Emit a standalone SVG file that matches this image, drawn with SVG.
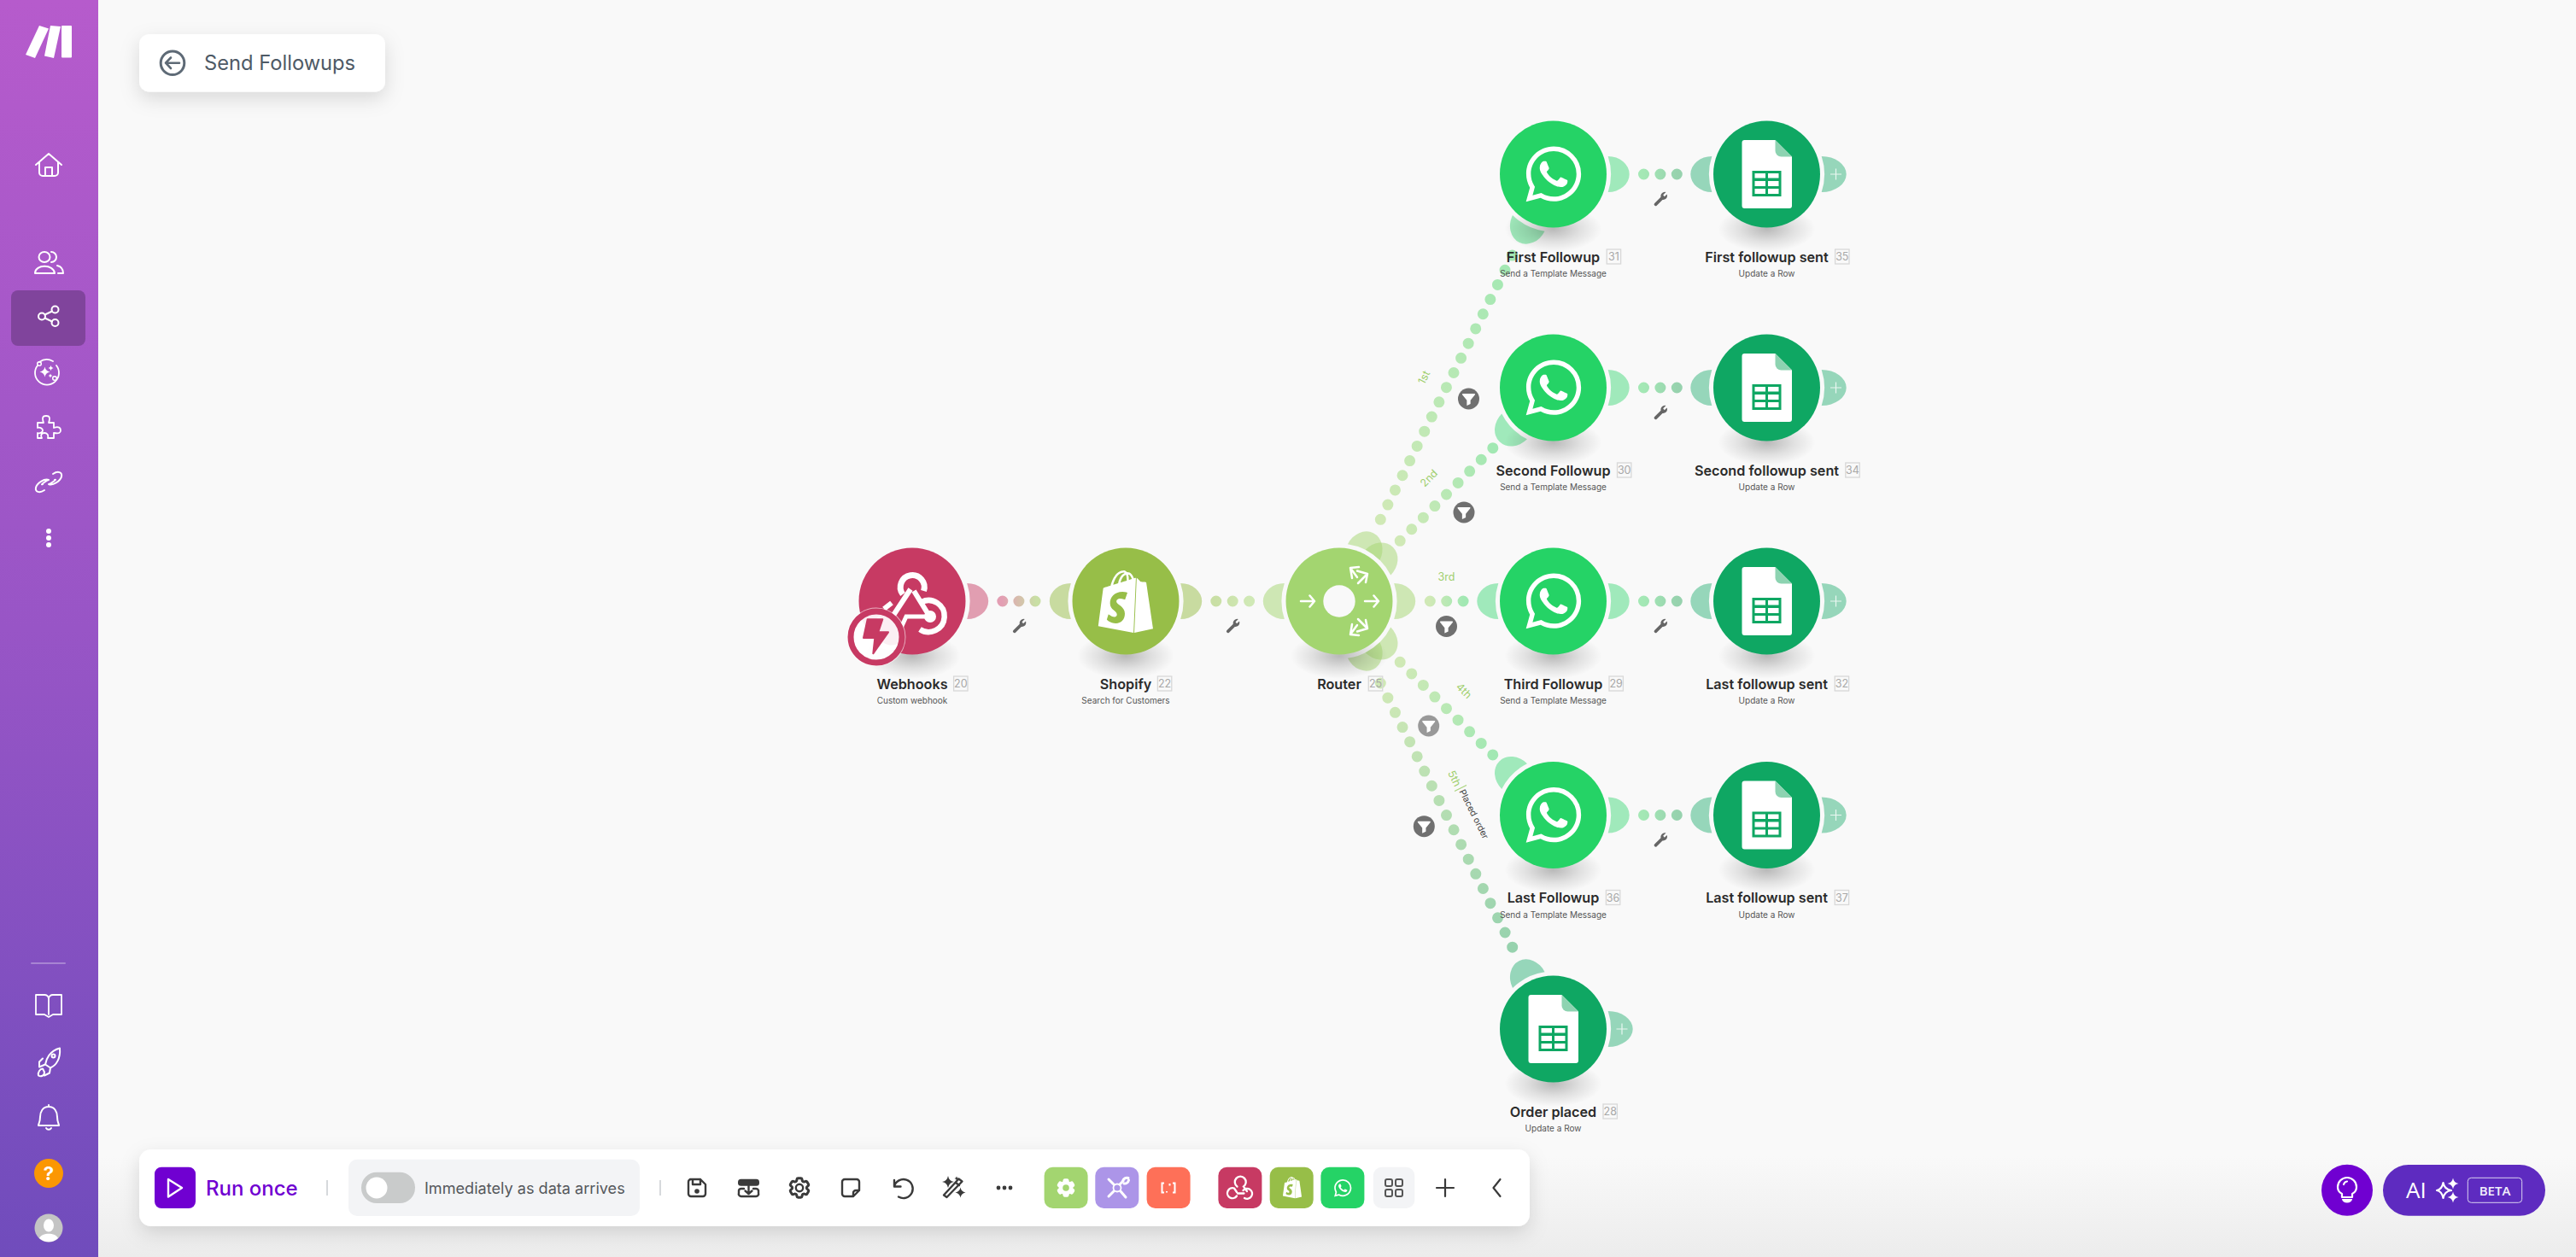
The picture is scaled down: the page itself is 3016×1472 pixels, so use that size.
<svg xmlns="http://www.w3.org/2000/svg" width="3016" height="1472" viewBox="0 0 3016 1472">
<style>
text{font-family:"Inter","Liberation Sans",sans-serif}
.n{font-size:16.2px;font-weight:600;fill:#2b2b2b;text-anchor:middle}
.s{font-size:10px;fill:#555;text-anchor:middle}
.b{fill:none;stroke:#d8d8d8;stroke-width:1.3}
.bn{font-size:12.5px;fill:#a8a8a8;text-anchor:middle}
.dots{fill:none;stroke-width:13;stroke-linecap:round}
.lb{font-size:12.5px;fill:#a0cf6e;text-anchor:middle}
.si{fill:none;stroke:#fff;stroke-width:2;stroke-linecap:round;stroke-linejoin:round}
.ti{fill:none;stroke:#3a3a3a;stroke-width:2.4;stroke-linecap:round;stroke-linejoin:round}
.ri{fill:none;stroke:#fff;stroke-width:2.5;stroke-linecap:round;stroke-linejoin:round}
</style>
<defs>
<linearGradient id="side" x1="0" y1="0" x2="0" y2="1"><stop offset="0" stop-color="#b65bcc"/><stop offset=".5" stop-color="#9855c6"/><stop offset="1" stop-color="#704cbc"/></linearGradient>
<linearGradient id="bg" x1="0" y1="0" x2="0" y2="1"><stop offset="0" stop-color="#f9f9f9"/><stop offset=".92" stop-color="#f9f9f9"/><stop offset="1" stop-color="#ececec"/></linearGradient>
<radialGradient id="sh"><stop offset="0" stop-color="#000" stop-opacity=".26"/><stop offset=".55" stop-color="#000" stop-opacity=".1"/><stop offset="1" stop-color="#000" stop-opacity="0"/></radialGradient>
<filter id="card" x="-20%" y="-50%" width="140%" height="220%"><feDropShadow dx="0" dy="8" stdDeviation="11" flood-color="#000" flood-opacity=".13"/></filter>
<linearGradient id="g0" gradientUnits="userSpaceOnUse" x1="1173" y1="0" x2="1213" y2="0"><stop offset="0" stop-color="#e39eb3"/><stop offset="1" stop-color="#c9dfa5"/></linearGradient>
<linearGradient id="g1" gradientUnits="userSpaceOnUse" x1="1423" y1="0" x2="1463" y2="0"><stop offset="0" stop-color="#c9dfa5"/><stop offset="1" stop-color="#d0e9b6"/></linearGradient>
<linearGradient id="g2" gradientUnits="userSpaceOnUse" x1="1674" y1="0" x2="1714" y2="0"><stop offset="0" stop-color="#d0e9b6"/><stop offset="1" stop-color="#a2e8b3"/></linearGradient>
<linearGradient id="g3" gradientUnits="userSpaceOnUse" x1="1924" y1="0" x2="1964" y2="0"><stop offset="0" stop-color="#a4e8b5"/><stop offset="1" stop-color="#97d2ae"/></linearGradient>
<linearGradient id="d1" gradientUnits="userSpaceOnUse" x1="1616" y1="608" x2="1771" y2="299"><stop offset="0" stop-color="#d0e9b6"/><stop offset="1" stop-color="#a2e8b3"/></linearGradient>
<linearGradient id="d2" gradientUnits="userSpaceOnUse" x1="1639" y1="633" x2="1748" y2="525"><stop offset="0" stop-color="#d0e9b6"/><stop offset="1" stop-color="#a2e8b3"/></linearGradient>
<linearGradient id="d4" gradientUnits="userSpaceOnUse" x1="1639" y1="775" x2="1748" y2="884"><stop offset="0" stop-color="#d0e9b6"/><stop offset="1" stop-color="#a2e8b3"/></linearGradient>
<linearGradient id="d5" gradientUnits="userSpaceOnUse" x1="1616" y1="800" x2="1771" y2="1109"><stop offset="0" stop-color="#d0e9b6"/><stop offset="1" stop-color="#97d2ae"/></linearGradient>
<path id="h" d="M64.2-21A25 21 0 0 1 64.2 21A67.5 67.5 0 0 0 64.2-21Z"/>
<path id="hp" d="M64.2-21A29 21 0 0 1 64.2 21A67.5 67.5 0 0 0 64.2-21Z"/>
<ellipse id="ns" cx="0" cy="64" rx="57" ry="27" fill="url(#sh)"/>
<path id="wa" fill="#fff" d="M17.472 14.382c-.297-.149-1.758-.867-2.03-.967-.273-.099-.471-.148-.67.15-.197.297-.767.966-.94 1.164-.173.199-.347.223-.644.075-.297-.15-1.255-.463-2.39-1.475-.883-.788-1.48-1.761-1.653-2.059-.173-.297-.018-.458.13-.606.134-.133.298-.347.446-.52.149-.174.198-.298.298-.497.099-.198.05-.371-.025-.52-.075-.149-.669-1.612-.916-2.207-.242-.579-.487-.5-.669-.51-.173-.008-.371-.01-.57-.01-.198 0-.52.074-.792.372-.272.297-1.04 1.016-1.04 2.479 0 1.462 1.065 2.875 1.213 3.074.149.198 2.096 3.2 5.077 4.487.709.306 1.262.489 1.694.625.712.227 1.36.195 1.871.118.571-.085 1.758-.719 2.006-1.413.248-.694.248-1.289.173-1.413-.074-.124-.272-.198-.57-.347m-5.421 7.403h-.004a9.87 9.87 0 01-5.031-1.378l-.361-.214-3.741.982.998-3.648-.235-.374a9.86 9.86 0 01-1.51-5.26c.001-5.45 4.436-9.884 9.888-9.884 2.64 0 5.122 1.03 6.988 2.898a9.825 9.825 0 012.893 6.994c-.003 5.45-4.437 9.884-9.885 9.884m8.413-18.297A11.815 11.815 0 0012.05 0C5.495 0 .16 5.335.157 11.892c0 2.096.547 4.142 1.588 5.945L.057 24l6.305-1.654a11.882 11.882 0 005.683 1.448h.005c6.554 0 11.89-5.335 11.893-11.893a11.821 11.821 0 00-3.48-8.413z"/>
<path id="shop" fill="#fff" d="M15.337 23.979l7.216-1.561s-2.604-17.613-2.625-17.73c-.018-.116-.114-.192-.211-.192s-1.929-.136-1.929-.136-1.275-1.274-1.439-1.411c-.045-.037-.075-.057-.121-.074l-.914 21.104h.023zM11.71 11.305s-.81-.424-1.774-.424c-1.447 0-1.504.906-1.504 1.141 0 1.232 3.24 1.715 3.24 4.629 0 2.295-1.44 3.76-3.406 3.76-2.354 0-3.54-1.465-3.54-1.465l.646-2.086s1.245 1.066 2.28 1.066c.675 0 .975-.545.975-.932 0-1.619-2.654-1.694-2.654-4.359-.034-2.237 1.571-4.416 4.827-4.416 1.257 0 1.875.361 1.875.361l-.945 2.715-.02.01zM11.17.83c.136 0 .271.038.405.135-.984.465-2.064 1.639-2.508 3.992-.656.213-1.293.405-1.889.578C7.697 3.75 8.951.84 11.17.84V.83zm1.235 2.949v.135c-.754.232-1.583.484-2.394.736.466-1.777 1.333-2.645 2.085-2.971.193.501.309 1.176.309 2.1zm.539-2.234c.694.074 1.141.867 1.429 1.755-.349.114-.735.231-1.158.366v-.252c0-.752-.096-1.371-.271-1.871v.002zm2.992 1.289c-.02 0-.06.021-.078.021s-.289.075-.714.21c-.423-1.233-1.176-2.37-2.508-2.37h-.115C12.135.209 11.669 0 11.265 0 8.159 0 6.675 3.877 6.21 5.846c-1.194.365-2.063.636-2.16.674-.675.213-.694.232-.772.87-.075.462-1.83 14.063-1.83 14.063L15.009 24l.927-21.166z"/>
<g id="hook" fill="none" stroke="#fff" stroke-linecap="butt">
<path stroke-width="7" d="M-11-8A14 14 0 1 1 13.500-12"/>
<path stroke-width="6" d="M-2-14L-23 18M2-12L18 14"/>
<path stroke-width="5" d="M20 18H-7L-13 31"/>
<circle cx="21" cy="18" r="7" fill="#fff" stroke="none"/>
<path stroke-width="6.500" d="M11 1A18.500 18.500 0 1 1 9 33"/>
<path stroke-width="6" d="M-33 9L-24 2M-37 20A19 19 0 0 0-12 50"/>
</g>
<g id="sheet">
<path fill="#fff" d="M-26-40H10L29.500-20.500V37A3 3 0 0 1 26.500 40H-26A3 3 0 0 1-29 37V-37A3 3 0 0 1-26-40Z"/>
<path fill="#8dd3b1" d="M10-40L29.500-20.500H17A7 7 0 0 1 10-27.500Z"/>
<rect x="-17" y="-4" width="34" height="30" fill="#0fa763"/>
<path fill="#fff" d="M-14-1H-1.500V4.500H-14ZM1.500-1H14V4.500H1.500ZM-14 8H-1.500V14H-14ZM1.500 8H14V14H1.500ZM-14 17H-1.500V23H-14ZM1.500 17H14V23H1.500Z"/>
</g>
<path id="wr" fill="#666" d="M-6.500 5L.8-2.300A4.800 4.800 0 0 1 6.800-8L3.500-4.700L5-2.700L8-5.500A4.800 4.800 0 0 1 2.800.9L-4 7.700A1.800 1.800 0 0 1-6.500 5Z"/>
<path id="fu" fill="#fff" d="M-8-7H8A1 1 0 0 1 8.700-5.500L2.500 2V7L-2.500 9.500V2L-8.700-5.500A1 1 0 0 1-8-7Z"/>
<path id="sp" d="M0-1Q.15-.15 1 0Q.15.15 0 1Q-.15.15-1 0Q-.15-.15 0-1Z"/>
<path id="gear" d="M9.594 3.94c.09-.542.56-.94 1.11-.94h2.593c.55 0 1.02.398 1.11.94l.213 1.281c.063.374.313.686.645.87.074.04.147.083.22.127.324.196.72.257 1.075.124l1.217-.456a1.125 1.125 0 011.37.49l1.296 2.247a1.125 1.125 0 01-.26 1.431l-1.003.827c-.293.24-.438.613-.431.992a6.759 6.759 0 010 .255c-.007.378.138.75.43.99l1.005.828c.424.35.534.954.26 1.43l-1.298 2.247a1.125 1.125 0 01-1.369.491l-1.217-.456c-.355-.133-.75-.072-1.076.124a6.57 6.57 0 01-.22.128c-.331.183-.581.495-.644.869l-.213 1.28c-.09.543-.56.941-1.11.941h-2.594c-.55 0-1.02-.398-1.11-.94l-.213-1.281c-.062-.374-.312-.686-.644-.87a6.52 6.52 0 01-.22-.127c-.325-.196-.72-.257-1.076-.124l-1.217.456a1.125 1.125 0 01-1.369-.49l-1.297-2.247a1.125 1.125 0 01.26-1.431l1.004-.827c.292-.24.437-.613.43-.992a6.932 6.932 0 010-.255c.007-.378-.138-.75-.43-.99l-1.004-.828a1.125 1.125 0 01-.26-1.43l1.297-2.247a1.125 1.125 0 011.37-.491l1.216.456c.356.133.751.072 1.076-.124.072-.044.146-.087.22-.128.332-.183.582-.495.644-.869l.214-1.281z"/>
</defs>

<rect id="background" width="3016" height="1472" fill="url(#bg)"/>

<g id="connectors">
<!-- dotted links -->
<line class="dots" stroke="url(#g0)" stroke-dasharray="0 19.1" x1="1173.800" y1="704" x2="1212.500" y2="704"/>
<line class="dots" stroke="url(#g1)" stroke-dasharray="0 19.4" x1="1423.800" y1="704" x2="1463" y2="704"/>
<line class="dots" stroke="url(#g2)" stroke-dasharray="0 19.4" x1="1674.300" y1="704" x2="1713.500" y2="704"/>
<line class="dots" stroke="url(#g3)" stroke-dasharray="0 19.4" x1="1924.500" y1="204" x2="1963.700" y2="204"/>
<line class="dots" stroke="url(#g3)" stroke-dasharray="0 19.4" x1="1924.500" y1="454" x2="1963.700" y2="454"/>
<line class="dots" stroke="url(#g3)" stroke-dasharray="0 19.4" x1="1924.500" y1="704" x2="1963.700" y2="704"/>
<line class="dots" stroke="url(#g3)" stroke-dasharray="0 19.4" x1="1924.500" y1="954.500" x2="1963.700" y2="954.500"/>
<line class="dots" stroke="url(#d1)" stroke-dasharray="0 19.2" x1="1616.300" y1="608.300" x2="1771" y2="298.200"/>
<line class="dots" stroke="url(#d2)" stroke-dasharray="0 19.2" x1="1639.200" y1="633.300" x2="1748.300" y2="524.200"/>
<line class="dots" stroke="url(#d4)" stroke-dasharray="0 19.2" x1="1639.200" y1="775.300" x2="1748.300" y2="884.500"/>
<line class="dots" stroke="url(#d5)" stroke-dasharray="0 19.2" x1="1616.300" y1="800" x2="1771" y2="1109.800"/>
<!-- port handles -->
<g fill="#c73a63" fill-opacity=".48"><use href="#h" transform="translate(1068,704)"/></g>
<g fill="#97be48" fill-opacity=".5"><use href="#h" transform="translate(1318,704)"/><use href="#h" transform="translate(1318,704) rotate(180)"/></g>
<g fill="#a3d570" fill-opacity=".5">
<use href="#h" transform="translate(1568,704) rotate(180)"/>
<use href="#h" transform="translate(1568,704)"/>
<use href="#h" transform="translate(1568,704) rotate(-63.430)"/>
<use href="#h" transform="translate(1568,704) rotate(-45)"/>
<use href="#h" transform="translate(1568,704) rotate(45)"/>
<use href="#h" transform="translate(1568,704) rotate(63.430)"/>
</g>
<g fill="#25d366" fill-opacity=".42">
<use href="#h" transform="translate(1818.500,204)"/><use href="#h" transform="translate(1818.500,204) rotate(116.570)"/>
<use href="#h" transform="translate(1818.500,454)"/><use href="#h" transform="translate(1818.500,454) rotate(135)"/>
<use href="#h" transform="translate(1818.500,704)"/><use href="#h" transform="translate(1818.500,704) rotate(180)"/>
<use href="#h" transform="translate(1818.500,954.500)"/><use href="#h" transform="translate(1818.500,954.500) rotate(-135)"/>
</g>
<g fill="#0fa763" fill-opacity=".42">
<use href="#h" transform="translate(2068.500,204) rotate(180)"/><use href="#hp" transform="translate(2068.500,204)"/>
<use href="#h" transform="translate(2068.500,454) rotate(180)"/><use href="#hp" transform="translate(2068.500,454)"/>
<use href="#h" transform="translate(2068.500,704) rotate(180)"/><use href="#hp" transform="translate(2068.500,704)"/>
<use href="#h" transform="translate(2068.500,954.500) rotate(180)"/><use href="#hp" transform="translate(2068.500,954.500)"/>
<use href="#h" transform="translate(1818.500,1205) rotate(-116.570)"/><use href="#hp" transform="translate(1818.500,1205)"/>
</g>
<g stroke="#fff" stroke-opacity=".8" stroke-width="1.200" fill="none">
<path d="M2149.500 197.500v13M2143 204h13M2149.500 447.500v13M2143 454h13M2149.500 697.500v13M2143 704h13M2149.500 948v13M2143 954.500h13M1899 1198.500v13M1892.500 1205h13"/>
</g>
<!-- wrench marks -->
<use href="#wr" transform="translate(1193,733)"/>
<use href="#wr" transform="translate(1443,733)"/>
<use href="#wr" transform="translate(1943.700,233)"/>
<use href="#wr" transform="translate(1943.700,483)"/>
<use href="#wr" transform="translate(1943.700,733)"/>
<use href="#wr" transform="translate(1943.700,983.500)"/>
<!-- filters -->
<g transform="translate(1719.500,467)"><circle r="12.500" fill="#707070"/><use href="#fu" transform="scale(.85)"/></g>
<g transform="translate(1714,600)"><circle r="12.500" fill="#707070"/><use href="#fu" transform="scale(.85)"/></g>
<g transform="translate(1693.500,733.500)"><circle r="12.500" fill="#707070"/><use href="#fu" transform="scale(.85)"/></g>
<g transform="translate(1672.700,850)"><circle r="12.500" fill="#999"/><use href="#fu" transform="scale(.85)"/></g>
<g transform="translate(1667.300,967.700)"><circle r="12.500" fill="#707070"/><use href="#fu" transform="scale(.85)"/></g>
<!-- route labels -->
<text class="lb" transform="translate(1671,444) rotate(-63.430)">1st</text>
<text class="lb" transform="translate(1676,563) rotate(-45)">2nd</text>
<text class="lb" transform="translate(1693.500,679.500)">3rd</text>
<text class="lb" transform="translate(1711,812) rotate(45)">4th</text>
<text class="lb" transform="translate(1699,913.500) rotate(63.430)">5th</text>
<line x1="1703" y1="926.500" x2="1717" y2="919.500" stroke="#a9d37c" stroke-width="1.200"/>
<text class="lb" style="fill:#444;font-size:10.500px" transform="translate(1722.500,955) rotate(63.430)">Placed order</text>
</g>

<g id="webhooks" transform="translate(1068,704)">
<use href="#ns"/><circle r="62.500" fill="#c73a63"/><use href="#hook"/>
<g transform="translate(-42,42)"><circle r="34.500" fill="#fff" opacity=".6"/><circle r="30" fill="#fff" fill-opacity=".8" stroke="#c73a63" stroke-width="7"/><path fill="#c73a63" stroke="#c73a63" stroke-width="2" stroke-linejoin="round" d="M-10.300-20.700H7.300L2.300-5.700H14L-3.700 19.300L-1.700 1H-15Z"/></g>
<text class="n" y="102.500">Webhooks</text><rect class="b" x="48.600" y="88" width="16.400" height="17"/><text class="bn" x="56.800" y="101">20</text><text class="s" y="120">Custom webhook</text>
</g>
<g id="shopify" transform="translate(1318,704)">
<use href="#ns"/><circle r="62.500" fill="#97be48"/><use href="#shop" transform="translate(-36.500,-36) scale(3.040)"/>
<text class="n" y="102.500">Shopify</text><rect class="b" x="37.400" y="88" width="16.400" height="17"/><text class="bn" x="45.600" y="101">22</text><text class="s" y="120">Search for Customers</text>
</g>
<g id="router" transform="translate(1568,704)">
<use href="#ns"/><circle r="62.500" fill="#a3d570"/><circle r="18.700" fill="#f9f9f9"/>
<g class="ri"><path d="M-45 0H-29M-34.500-6.500L-29 0L-34.500 6.500M30 0H46M40.500-6.500L46 0L40.500 6.500"/>
<path d="M15-27L13-39L23-40M13-39L21-28M21-35.500L33-32L31-22M33-32L22-21"/>
<path d="M15 27L13 39L23 40M13 39L21 28M21 35.500L33 32L31 22M33 32L22 21"/></g>
<text class="n" y="102.500">Router</text><rect class="b" x="34.300" y="88" width="16.400" height="17"/><text class="bn" x="42.500" y="101">25</text>
</g>
<g id="n31" transform="translate(1818.500,204)"><use href="#ns"/><circle r="62.500" fill="#25d366"/><use href="#wa" transform="translate(-32,-32.500) scale(2.700)"/><text class="n" y="102.500">First Followup</text><rect class="b" x="62.700" y="88" width="16.400" height="17"/><text class="bn" x="70.900" y="101">31</text><text class="s" y="120">Send a Template Message</text></g>
<g id="n30" transform="translate(1818.500,454)"><use href="#ns"/><circle r="62.500" fill="#25d366"/><use href="#wa" transform="translate(-32,-32.500) scale(2.700)"/><text class="n" y="102.500">Second Followup</text><rect class="b" x="75" y="88" width="16.400" height="17"/><text class="bn" x="83.200" y="101">30</text><text class="s" y="120">Send a Template Message</text></g>
<g id="n29" transform="translate(1818.500,704)"><use href="#ns"/><circle r="62.500" fill="#25d366"/><use href="#wa" transform="translate(-32,-32.500) scale(2.700)"/><text class="n" y="102.500">Third Followup</text><rect class="b" x="65.500" y="88" width="16.400" height="17"/><text class="bn" x="73.700" y="101">29</text><text class="s" y="120">Send a Template Message</text></g>
<g id="n36" transform="translate(1818.500,954.500)"><use href="#ns"/><circle r="62.500" fill="#25d366"/><use href="#wa" transform="translate(-32,-32.500) scale(2.700)"/><text class="n" y="102.500">Last Followup</text><rect class="b" x="61.900" y="88" width="16.400" height="17"/><text class="bn" x="70.100" y="101">36</text><text class="s" y="120">Send a Template Message</text></g>
<g id="n35" transform="translate(2068.500,204)"><use href="#ns"/><circle r="62.500" fill="#0fa763"/><use href="#sheet"/><text class="n" y="102.500">First followup sent</text><rect class="b" x="80.100" y="88" width="16.400" height="17"/><text class="bn" x="88.300" y="101">35</text><text class="s" y="120">Update a Row</text></g>
<g id="n34" transform="translate(2068.500,454)"><use href="#ns"/><circle r="62.500" fill="#0fa763"/><use href="#sheet"/><text class="n" y="102.500">Second followup sent</text><rect class="b" x="92.300" y="88" width="16.400" height="17"/><text class="bn" x="100.500" y="101">34</text><text class="s" y="120">Update a Row</text></g>
<g id="n32" transform="translate(2068.500,704)"><use href="#ns"/><circle r="62.500" fill="#0fa763"/><use href="#sheet"/><text class="n" y="102.500">Last followup sent</text><rect class="b" x="79.700" y="88" width="16.400" height="17"/><text class="bn" x="87.900" y="101">32</text><text class="s" y="120">Update a Row</text></g>
<g id="n37" transform="translate(2068.500,954.500)"><use href="#ns"/><circle r="62.500" fill="#0fa763"/><use href="#sheet"/><text class="n" y="102.500">Last followup sent</text><rect class="b" x="79.700" y="88" width="16.400" height="17"/><text class="bn" x="87.900" y="101">37</text><text class="s" y="120">Update a Row</text></g>
<g id="n28" transform="translate(1818.500,1205)"><use href="#ns"/><circle r="62.500" fill="#0fa763"/><use href="#sheet"/><text class="n" y="102.500">Order placed</text><rect class="b" x="58.500" y="88" width="16.400" height="17"/><text class="bn" x="66.700" y="101">28</text><text class="s" y="120">Update a Row</text></g>

<g id="sidebar">
<rect width="115" height="1472" fill="url(#side)"/>
<g fill="#fff"><path d="M30 64L46 30L57 33.500L41 68Z"/><path d="M59 30L71 31L63 68L52 65.600Z"/><rect x="72" y="30" width="12" height="37.500" rx="1"/></g>
<rect x="13" y="340" width="87" height="65" rx="8" fill="#80449c"/>
<g class="si">
<path d="M42 193L57 180L72 193M46 190V202A4 4 0 0 0 50 206H64A4 4 0 0 0 68 202V190M53 206V196H61V206"/>
<ellipse cx="52" cy="301" rx="6.500" ry="6"/><path d="M60 295A6 6 0 1 1 60 307M41 320C41 309 63 309 64 320ZM67 311C71 312 74 315 74 320H68"/>
<circle cx="49" cy="370.500" r="4"/><circle cx="64.500" cy="362.500" r="4"/><circle cx="64.500" cy="378" r="4"/><path d="M52.500 368.500L61 364.500M52.500 372.500L61 376.500"/>
<path d="M44 428A14 14 0 1 0 66 428M46 424A15 15 0 0 1 62 423" stroke-width="1.800"/><circle cx="46" cy="426" r="2.300" stroke-width="1.500"/><circle cx="64" cy="443" r="2.300" stroke-width="1.500"/>
<path d="M44 495H51C49 489 50 487 54 487S59 489 57 495H63V501C69 499 71 501 71 504S69 508 63 507V513H56C57 509 55 507 52 507S47 509 49 513H44V507C47 508 50 506 50 504S47 500 44 501Z" stroke-width="1.800"/>
<path d="M62 555C68 551 73 553 72 558S62 569 57 567M52 574C46 578 41 576 42 571S52 560 57 562M50 567C46 569 55 562 57 562M64 562C68 560 59 567 57 567"/>
<path d="M42 1165V1188H52L57 1191L62 1188H72V1165H62Q58 1165 57 1169Q56 1165 52 1165ZM57 1169V1188" stroke-width="1.800"/>
<g transform="translate(0,-2.500)"><path d="M70 1230C58 1233 54 1243 53 1249L59 1253C66 1250 71 1242 70 1230ZM50 1242L46 1246V1252L53 1249M59 1253L58 1259L52 1262M45 1262C48 1264 52 1262 52 1258L50 1254C47 1254 44 1258 45 1262Z"/><circle cx="62.500" cy="1239" r="2"/></g>
<path d="M57 1294V1296M57 1296C50 1296 47 1302 47 1308C47 1314 45 1316 45 1318H69C69 1316 67 1314 67 1308C67 1302 64 1296 57 1296ZM54 1321A3.500 3.500 0 0 0 60 1321"/>
<line x1="37" y1="1128" x2="76" y2="1128" stroke-opacity=".3"/>
</g>
<g fill="#fff"><use href="#sp" transform="translate(52.500,435.500) scale(6)"/><use href="#sp" transform="translate(59.500,431) scale(3)"/><use href="#sp" transform="translate(59,440) scale(2.500)"/>
<circle cx="57" cy="622" r="3"/><circle cx="57" cy="630" r="3"/><circle cx="57" cy="638" r="3"/></g>
<circle cx="57" cy="1374" r="17" fill="#fb9703"/><text x="57" y="1381.500" font-size="22" font-weight="700" fill="#fff" text-anchor="middle">?</text>
<circle cx="57" cy="1438" r="16.500" fill="#c4c4c4"/><ellipse cx="57" cy="1435" rx="6" ry="7.500" fill="#fff"/><path d="M46 1450C49 1443 65 1443 68 1450A16.500 16.500 0 0 1 46 1450Z" fill="#fff"/>
</g>

<g id="title">
<rect x="163" y="40" width="288" height="67.500" rx="12" fill="#fff" filter="url(#card)"/>
<circle cx="202" cy="73.700" r="13.800" fill="none" stroke="#5e6a76" stroke-width="3"/>
<path d="M194 73.700H210M200 67.500L194 73.700L200 80" fill="none" stroke="#5e6a76" stroke-width="2.600" stroke-linecap="round" stroke-linejoin="round"/>
<text x="239" y="82" font-size="23.700" fill="#4e5a66">Send Followups</text>
</g>

<g id="toolbar">
<rect x="163" y="1346" width="1628" height="90" rx="14" fill="#fff" filter="url(#card)"/>
<rect x="181" y="1366.700" width="48" height="48.300" rx="8" fill="#7000d1"/>
<path d="M197 1381L213 1391L197 1401.500Z" fill="none" stroke="#fff" stroke-width="2.400" stroke-linejoin="round"/>
<text x="241" y="1400" font-size="24" font-weight="500" fill="#7000d1">Run once</text>
<line x1="383" y1="1382" x2="383" y2="1400" stroke="#c9ccd0" stroke-width="1.500"/>
<rect x="408" y="1357.700" width="341" height="66.300" rx="10" fill="#f3f4f6"/>
<rect x="423" y="1372.700" width="63" height="36.300" rx="18" fill="#c9cbcb"/><circle cx="441" cy="1391" r="12.500" fill="#fff"/>
<text x="497" y="1398" font-size="18.100" fill="#55585c">Immediately as data arrives</text>
<line x1="773" y1="1382" x2="773" y2="1400" stroke="#c9ccd0" stroke-width="1.500"/>
<g class="ti">
<path d="M808 1381H820L826 1387V1398A3 3 0 0 1 823 1401H809A3 3 0 0 1 806 1398V1384A3 3 0 0 1 809 1381ZM811 1381V1387H820V1381"/>
<path d="M865 1394V1397A3 3 0 0 0 868 1401H885A3 3 0 0 0 888 1397V1394A3 3 0 0 0 885 1392H882M871 1392H868A3 3 0 0 0 865 1394M876.500 1389V1398M872.500 1394.500L876.500 1398L880.500 1394.500"/>
<use href="#gear" transform="translate(921,1376) scale(1.250)"/><circle cx="936" cy="1391" r="4.200"/>
<path d="M989 1381H1003A3 3 0 0 1 1006 1384V1394L999 1401H989A3 3 0 0 1 986 1398V1384A3 3 0 0 1 989 1381ZM1006 1394H1002A3 3 0 0 0 999 1397V1401"/>
<path d="M1047 1382V1389.500H1054.500M1047 1389.500A11 11 0 1 1 1052 1401.500"/>
<path d="M1126.500 1383.500L1122.500 1380.500L1105 1399.500L1108.500 1402ZM1119 1385L1123 1388"/>
</g>
<g fill="#3a3a3a"><circle cx="816" cy="1395" r="2.800"/><rect x="864" y="1380.700" width="25" height="8" rx="3.500"/>
<use href="#sp" transform="translate(1110,1384) scale(7)"/><use href="#sp" transform="translate(1124.500,1396.500) scale(6)"/><use href="#sp" transform="translate(1120,1380) scale(2.500)"/>
<circle cx="1169" cy="1391" r="2.400"/><circle cx="1176" cy="1391" r="2.400"/><circle cx="1183" cy="1391" r="2.400"/></g>
<rect x="1222.600" y="1366.700" width="51" height="48.300" rx="10" fill="#a3d570"/>
<rect x="1282.300" y="1366.700" width="51" height="48.300" rx="10" fill="#ac95e8"/>
<rect x="1342.600" y="1366.700" width="51" height="48.300" rx="10" fill="#fe7058"/>
<rect x="1426.400" y="1366.700" width="51" height="48.300" rx="10" fill="#c73a63"/>
<rect x="1486.700" y="1366.700" width="51" height="48.300" rx="10" fill="#97be48"/>
<rect x="1546.400" y="1366.700" width="51" height="48.300" rx="10" fill="#25d366"/>
<rect x="1607.800" y="1366.700" width="48.500" height="48.300" rx="10" fill="#f3f4f6"/>
<g transform="translate(1248,1391)"><use href="#gear" fill="#fff" stroke="#fff" stroke-width="1.500" transform="translate(-13.200,-13.200) scale(1.100)"/><circle r="3.800" fill="#a3d570"/></g>
<g transform="translate(1308,1391)" fill="none" stroke="#fff" stroke-linecap="round"><path stroke-width="3" d="M-10-10L-4-4M4 4L10 11M3-4L7-8M-4 4L-10 10"/><circle r="4.500" stroke-width="1.800"/><path stroke-width="3" d="M6.500-8A5 5 0 0 1 13-11.500M8-5A5 5 0 0 0 13.500-9"/></g>
<g transform="translate(1368,1391)" fill="none" stroke="#fff" stroke-width="2"><path d="M-5-5.500H-7.500V5.500H-5M5-5.500H7.500V5.500H5"/><path d="M-2 4V5.500M1.500-5V-2.500"/></g>
<g transform="translate(1452,1391)" fill="none" stroke="#fff" stroke-width="2.300" stroke-linecap="round"><path d="M-3.500-1.500A6.500 6.500 0 1 1 4-1.500L8 4M4.500 6.500H-3M-4 9.500A6 6 0 1 1-7 0.500L-4 5M3.500 3A6 6 0 1 1 5 12"/></g>
<use href="#shop" transform="translate(1500.500,1378) scale(1.050)"/>
<use href="#wa" transform="translate(1562,1381) scale(.850)"/>
<g fill="none" stroke="#555" stroke-width="2"><rect x="1622" y="1381" width="8" height="8" rx="2"/><rect x="1634" y="1381" width="8" height="8" rx="2"/><rect x="1622" y="1393" width="8" height="8" rx="2"/><rect x="1634" y="1393" width="8" height="8" rx="2"/></g>
<path d="M1692 1381V1401M1682 1391H1702M1756.500 1381L1748.500 1391L1756.500 1401" fill="none" stroke="#3a3a3a" stroke-width="2.200" stroke-linecap="round" stroke-linejoin="round"/>
</g>

<g id="assist">
<circle cx="2748" cy="1393.700" r="30" fill="#7000d1"/>
<path d="M2742 1402V1398C2738 1396 2737 1392 2737 1390A11 11 0 0 1 2759 1390C2759 1392 2758 1396 2754 1398V1402ZM2744 1387A5 5 0 0 1 2748 1383.500" fill="none" stroke="#fff" stroke-width="2.200" stroke-linejoin="round" stroke-linecap="round"/><path d="M2742 1404H2754A6 4.500 0 0 1 2742 1404Z" fill="#fff"/>
<rect x="2790" y="1364" width="190" height="59.700" rx="29.800" fill="#5e2bc0"/>
<text x="2817" y="1403" font-size="26" fill="#fff" style="font-family:'Open Sans','Noto Sans',sans-serif">AI</text>
<path d="M2860.500 1385Q2862 1393 2870 1394Q2862 1395 2860.500 1403Q2859 1395 2853 1394Q2859 1393 2860.500 1385Z" fill="none" stroke="#fff" stroke-width="2.200" stroke-linejoin="round"/>
<g fill="#fff"><use href="#sp" transform="translate(2872,1386) scale(6.500)"/><use href="#sp" transform="translate(2872,1402) scale(6.500)"/></g>
<rect x="2889.300" y="1379.300" width="63.400" height="29" rx="4" fill="none" stroke="#d9d2f0" stroke-width="1"/>
<text x="2921" y="1399.500" font-size="15" font-weight="600" fill="#f2effb" text-anchor="middle" style="font-family:'Open Sans','Noto Sans',sans-serif">BETA</text>
</g>
</svg>
